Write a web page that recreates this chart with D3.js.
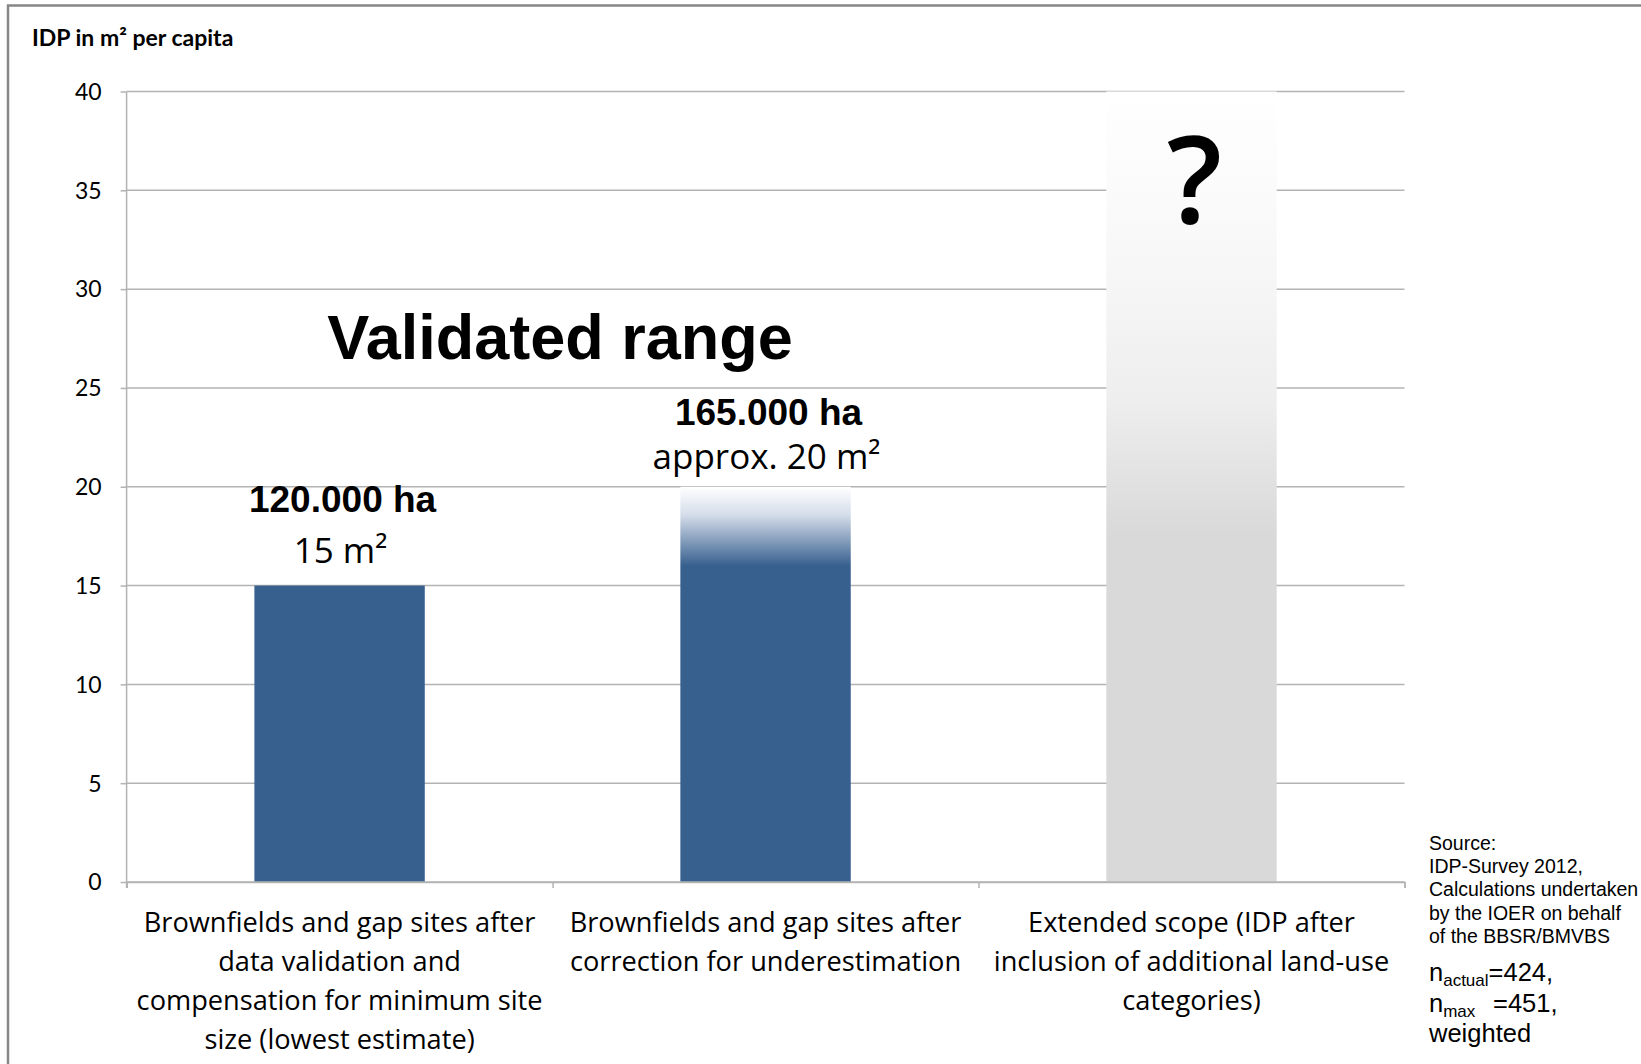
<!DOCTYPE html>
<html>
<head>
<meta charset="utf-8">
<script src="https://cdn.jsdelivr.net/npm/d3@7"></script>
<style>
  html, body { margin: 0; padding: 0; background: #ffffff; }
  svg { display: block; }
</style>
</head>
<body>
<svg id="chart" width="1641" height="1064"></svg>
<script>
// Category labels (one entry per bar, each split into its printed lines)
const categories = [
  ["Brownfields and gap sites after", "data validation and", "compensation for minimum site", "size (lowest estimate)"],
  ["Brownfields and gap sites after", "correction for underestimation"],
  ["Extended scope (IDP after", "inclusion of additional land-use", "categories)"]
];
// IDP in m² per capita
const values = [15, 20, 40];
const areaLabels = ["120.000 ha", "165.000 ha"];
const perCapitaLabels = ["15 m²", "approx. 20 m²"];
const yTicks = [0, 5, 10, 15, 20, 25, 30, 35, 40];
const sourceLines = ["Source:", "IDP-Survey 2012,", "Calculations undertaken", "by the IOER on behalf", "of the BBSR/BMVBS"];

const svg = d3.select("#chart");
const W = 1641, H = 1064;
const plot = { left: 126.6, right: 1404.5, top: 91.5, bottom: 882 };
const gridColor = "#b3b3b3";

// frame
svg.append("path")
  .attr("d", `M8,${H} L8,5.5 L${W},5.5`)
  .attr("fill", "none").attr("stroke", "#878787").attr("stroke-width", 2.5);

const keys = categories.map((c, i) => "c" + i);
const x = d3.scaleBand().domain(keys).range([plot.left, plot.right])
  .paddingInner(0.6).paddingOuter(0.3);
const y = d3.scaleLinear().domain([0, 40]).range([plot.bottom, plot.top]);

// gradients
const defs = svg.append("defs");
const gBlue = defs.append("linearGradient").attr("id", "fadeBlue")
  .attr("x1", 0).attr("y1", 0).attr("x2", 0).attr("y2", 1);
gBlue.append("stop").attr("offset", 0).attr("stop-color", "#ffffff");
gBlue.append("stop").attr("offset", 0.07).attr("stop-color", "#d6deea");
gBlue.append("stop").attr("offset", 0.2).attr("stop-color", "#37608f");
gBlue.append("stop").attr("offset", 1).attr("stop-color", "#37608f");
const gGrey = defs.append("linearGradient").attr("id", "fadeGrey")
  .attr("x1", 0).attr("y1", 0).attr("x2", 0).attr("y2", 1);
gGrey.append("stop").attr("offset", 0).attr("stop-color", "#ffffff");
gGrey.append("stop").attr("offset", 0.2).attr("stop-color", "#f8f8f8");
gGrey.append("stop").attr("offset", 0.39).attr("stop-color", "#eeeeee");
gGrey.append("stop").attr("offset", 0.56).attr("stop-color", "#d9d9d9");
gGrey.append("stop").attr("offset", 1).attr("stop-color", "#d9d9d9");
const fills = ["#37608f", "url(#fadeBlue)", "url(#fadeGrey)"];

// y axis with gridlines
const yAxis = svg.append("g").attr("transform", `translate(${plot.left},0)`)
  .call(d3.axisLeft(y).tickValues(yTicks).tickSize(6).tickPadding(8));
yAxis.select(".domain").attr("stroke", gridColor).attr("stroke-width", 1.5)
  .attr("d", `M0,${plot.top}V${plot.bottom + 6}`);
yAxis.selectAll(".tick line").attr("stroke", gridColor).attr("stroke-width", 1.5);
yAxis.selectAll(".tick text")
  .attr("font-family", "Lato, sans-serif").attr("font-size", 23)
  .attr("fill", "#000").attr("x", -25).attr("dy", "0.34em");

svg.append("g").selectAll("line").data(yTicks.filter(t => t > 0)).join("line")
  .attr("x1", plot.left).attr("x2", plot.right)
  .attr("y1", d => y(d)).attr("y2", d => y(d))
  .attr("stroke", gridColor).attr("stroke-width", 1.5);

// x axis: category boundary ticks
const xb = d3.scaleLinear().domain([0, categories.length]).range([plot.left, plot.right]);
const xAxis = svg.append("g").attr("transform", `translate(0,${y(0)})`)
  .call(d3.axisBottom(xb).tickValues(d3.range(categories.length + 1)).tickSize(6).tickFormat(""));
xAxis.select(".domain").attr("stroke", gridColor).attr("stroke-width", 1.5);
xAxis.selectAll(".tick line").attr("stroke", gridColor).attr("stroke-width", 1.5);

// bars
svg.append("g").selectAll("rect").data(values).join("rect")
  .attr("x", (d, i) => x(keys[i]))
  .attr("width", x.bandwidth())
  .attr("y", d => y(d))
  .attr("height", d => y(0) - y(d))
  .attr("fill", (d, i) => fills[i]);

// re-draw baseline over bars
svg.append("line").attr("x1", plot.left).attr("x2", plot.right)
  .attr("y1", y(0)).attr("y2", y(0)).attr("stroke", gridColor).attr("stroke-width", 1.5);

// category labels
categories.forEach((lines, i) => {
  const t = svg.append("text")
    .attr("text-anchor", "middle")
    .attr("font-family", "'Open Sans', sans-serif")
    .attr("font-size", 27.2).attr("fill", "#000");
  lines.forEach((ln, j) => {
    t.append("tspan").attr("x", x(keys[i]) + x.bandwidth() / 2)
      .attr("y", 932 + j * 39).text(ln);
  });
});

// value annotations above the first two bars
const haOffset = [74, 62];
const m2Offset = [23, 18];
areaLabels.forEach((lab, i) => {
  const cx = x(keys[i]) + x.bandwidth() / 2;
  svg.append("text").attr("x", cx + 3).attr("y", y(values[i]) - haOffset[i])
    .attr("text-anchor", "middle")
    .attr("font-family", "'Liberation Sans', Arial, sans-serif")
    .attr("font-weight", "bold").attr("font-size", 37).attr("fill", "#000")
    .text(lab);
  svg.append("text").attr("x", cx + 1).attr("y", y(values[i]) - m2Offset[i])
    .attr("text-anchor", "middle")
    .attr("font-family", "'Open Sans', sans-serif")
    .attr("font-size", 35).attr("fill", "#000")
    .text(perCapitaLabels[i]);
});

// question mark on the extended-scope bar
svg.append("text")
  .attr("x", x(keys[2]) + x.bandwidth() / 2 + 3).attr("y", 223)
  .attr("text-anchor", "middle")
  .attr("font-family", "'Open Sans', sans-serif")
  .attr("font-weight", 600)
  .attr("font-size", 122).attr("fill", "#000")
  .text("?");

// range heading
svg.append("text").attr("x", 560).attr("y", 359)
  .attr("text-anchor", "middle")
  .attr("font-family", "'Liberation Sans', Arial, sans-serif")
  .attr("font-weight", "bold").attr("font-size", 63).attr("fill", "#000")
  .text("Validated range");

// axis title
svg.append("text").attr("x", 32).attr("y", 46)
  .attr("font-family", "Lato, sans-serif").attr("font-weight", "bold")
  .attr("font-size", 23).attr("fill", "#000")
  .text("IDP in m² per capita");

// source note
const src = svg.append("text")
  .attr("font-family", "'Liberation Sans', Arial, sans-serif")
  .attr("font-size", 19.5).attr("fill", "#000");
sourceLines.forEach((ln, j) => {
  src.append("tspan").attr("x", 1429).attr("y", 850 + j * 23.2).text(ln);
});

const nFont = "'Liberation Sans', Arial, sans-serif";
const n1 = svg.append("text").attr("x", 1429).attr("y", 981)
  .attr("font-family", nFont).attr("font-size", 25.5).attr("fill", "#000");
n1.append("tspan").text("n");
n1.append("tspan").attr("font-size", 17).attr("dy", 5).text("actual");
n1.append("tspan").attr("dy", -5).text("=424,");

const n2 = svg.append("text").attr("x", 1429).attr("y", 1012)
  .attr("font-family", nFont).attr("font-size", 25.5).attr("fill", "#000");
n2.append("tspan").text("n");
n2.append("tspan").attr("font-size", 17).attr("dy", 5).text("max");
n2.append("tspan").attr("dy", -5).attr("x", 1493).text("=451,");

svg.append("text").attr("x", 1429).attr("y", 1042)
  .attr("font-family", nFont).attr("font-size", 25.5).attr("fill", "#000")
  .text("weighted");
</script>
</body>
</html>
